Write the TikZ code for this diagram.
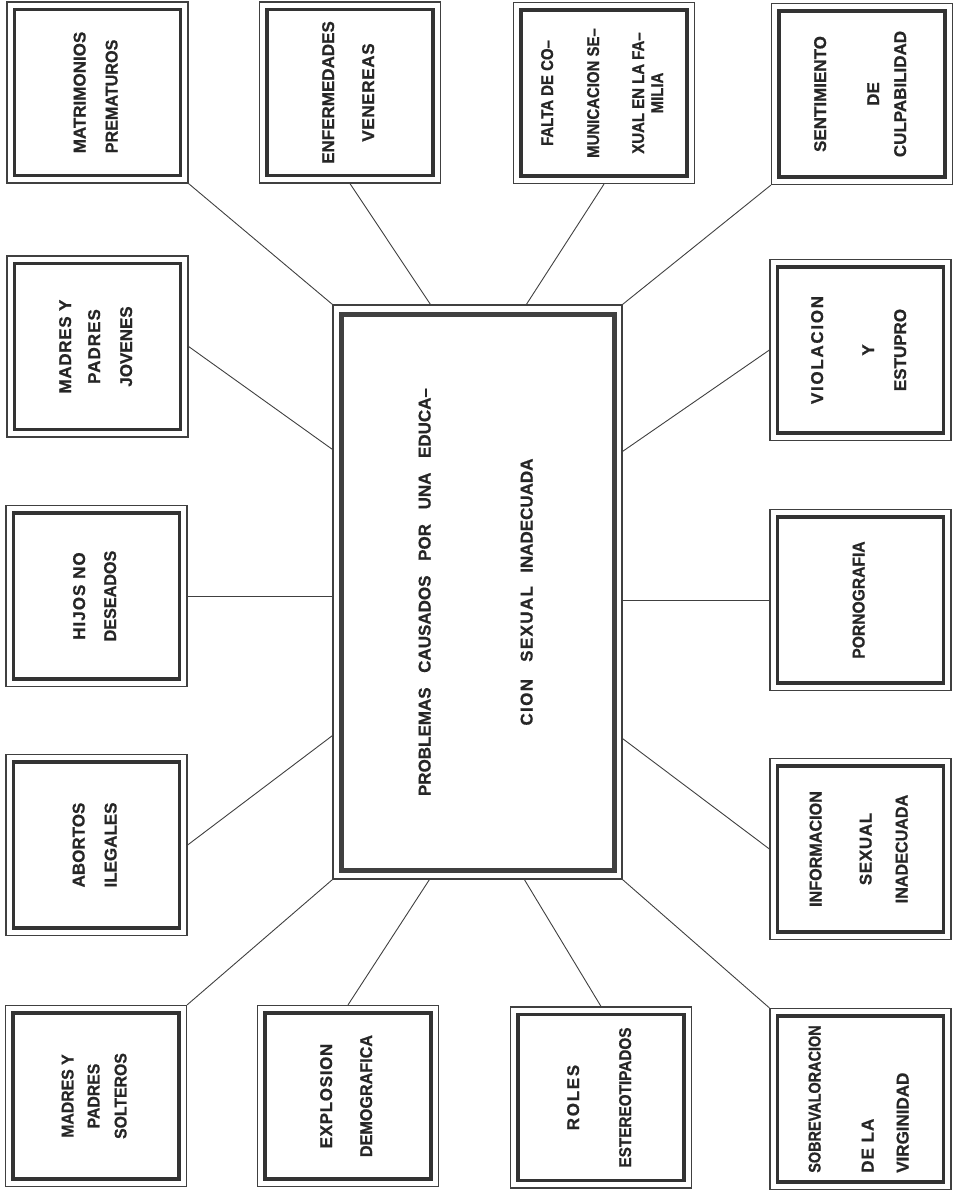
\documentclass[tikz,border=0pt]{standalone}
\usepackage{graphicx}
\usepackage{fontspec}
\setmainfont{Liberation Sans}[BoldFont={Liberation Sans Bold}]
\usetikzlibrary{positioning,calc}

\newcommand{\esp}[2]{{\addfontfeature{LetterSpace=#1}#2}}
\newcommand{\ancho}[2]{{\addfontfeature{FakeStretch=#1}#2}}
\newcommand{\vtexto}[2][c]{\rotatebox{90}{\begin{tabular}{@{}#1@{}}#2\end{tabular}}}

\begin{document}
\begin{tikzpicture}[
  x=1pt, y=-1pt,
  caja/.style={draw=black!75, line width=1.2pt, minimum width=181pt, minimum height=181pt,
    inner sep=0pt, text=black!85,
    font=\fontsize{17}{20}\selectfont\bfseries\addfontfeature{FakeBold=0.8},
    path picture={\draw[line width=3.8pt, black!80]
      ([shift={(7.5pt,7.5pt)}]path picture bounding box.south west) rectangle
      ([shift={(-7.5pt,-7.5pt)}]path picture bounding box.north east);}},
  central/.style={draw=black!75, line width=1.2pt, minimum width=289pt, minimum height=574pt,
    inner sep=0pt, text=black!85,
    font=\fontsize{17}{20}\selectfont\bfseries\addfontfeature{FakeBold=0.8},
    path picture={\draw[line width=5pt, black!75]
      ([shift={(8pt,9pt)}]path picture bounding box.south west) rectangle
      ([shift={(-8pt,-9pt)}]path picture bounding box.north east);}},
  enlace/.style={draw=black!75, line width=0.9pt}
]
\useasboundingbox (0,0) rectangle (959,1194);

% Central box
\node[central] (centro) at (477.5,592)
  {\vtexto{\makebox[408pt][s]{PROBLEMAS CAUSADOS POR UNA EDUCA--}\\[82pt]
           \makebox[267pt][s]{\esp{8}{CION SEXUAL} INADECUADA}}};

% Top row
\node[caja] (matrimonios) at (97.5,92.5) {\vtexto[l]{MATRIMONIOS\\[12pt]\ancho{0.95}{PREMATUROS}}};
\node[caja] (venereas) at (350,92.5) {\vtexto{ENFERMEDADES\\[20pt]\esp{4}{VENEREAS}}};
\node[caja] (falta) at (604,93) {\ancho{0.88}{\vtexto{FALTA DE CO--\\[26pt]MUNICACION SE--\\[25pt]XUAL EN LA FA--\\[-1pt]MILIA}}};
\node[caja] (culpa) at (862,94) {\vtexto{SENTIMIENTO\\[33pt]DE\\[7pt]CULPABILIDAD}};

% Left column
\node[caja] (jovenes) at (97.5,346.5) {\vtexto{\esp{4}{MADRES Y}\\[9pt]\esp{6}{PADRES}\\[12pt]JOVENES}};
\node[caja] (hijos) at (96.5,596) {\vtexto{\esp{6}{HIJOS NO}\\[11pt]\ancho{0.95}{DESEADOS}}};
\node[caja] (abortos) at (96.5,845) {\vtexto{ABORTOS\\[12pt]ILEGALES}};
\node[caja] (solteros) at (96,1096) {\ancho{0.93}{\vtexto{MADRES Y\\[6pt]PADRES\\[7pt]SOLTEROS}}};

% Bottom row
\node[caja] (explosion) at (348,1096) {\vtexto{\esp{4}{EXPLOSION}\\[20pt]\ancho{0.95}{DEMOGRAFICA}}};
\node[caja] (roles) at (601,1097.5) {\vtexto{\esp{10}{ROLES}\\[32pt]\ancho{0.9}{ESTEREOTIPADOS}}};
\node[caja] (virginidad) at (860.5,1099) {\vtexto[l]{\ancho{0.85}{SOBREVALORACION}\\[33pt]\esp{6}{DE LA}\\[15pt]VIRGINIDAD}};

% Right column
\node[caja] (violacion) at (860.5,350) {\vtexto{\esp{10}{VIOLACION}\\[31pt]Y\\[12pt]ESTUPRO}};
\node[caja] (porno) at (860.5,600) {\vtexto{\ancho{0.92}{PORNOGRAFIA}}};
\node[caja] (informacion) at (860.5,849) {\vtexto{\ancho{0.95}{INFORMACION}\\[30pt]\esp{4}{SEXUAL}\\[16pt]\ancho{0.95}{INADECUADA}}};

% Connectors
\draw[enlace] (matrimonios.south east) -- (centro.north west);
\draw[enlace] (venereas.south) -- ([xshift=98pt]centro.north west);
\draw[enlace] (falta.south) -- ([xshift=194pt]centro.north west);
\draw[enlace] (culpa.south west) -- (centro.north east);
\draw[enlace] (jovenes.east) -- ([yshift=-145pt]centro.north west);
\draw[enlace] (hijos.east) -- (hijos.east -| centro.west);
\draw[enlace] (abortos.east) -- ([yshift=144pt]centro.south west);
\draw[enlace] (solteros.north east) -- (centro.south west);
\draw[enlace] (explosion.north) -- ([xshift=97pt]centro.south west);
\draw[enlace] (roles.north) -- ([xshift=192pt]centro.south west);
\draw[enlace] (virginidad.north west) -- (centro.south east);
\draw[enlace] (informacion.west) -- ([yshift=141pt]centro.south east);
\draw[enlace] (porno.west -| centro.east) -- (porno.west);
\draw[enlace] ([yshift=-147pt]centro.north east) -- (violacion.west);

\end{tikzpicture}
\end{document}
